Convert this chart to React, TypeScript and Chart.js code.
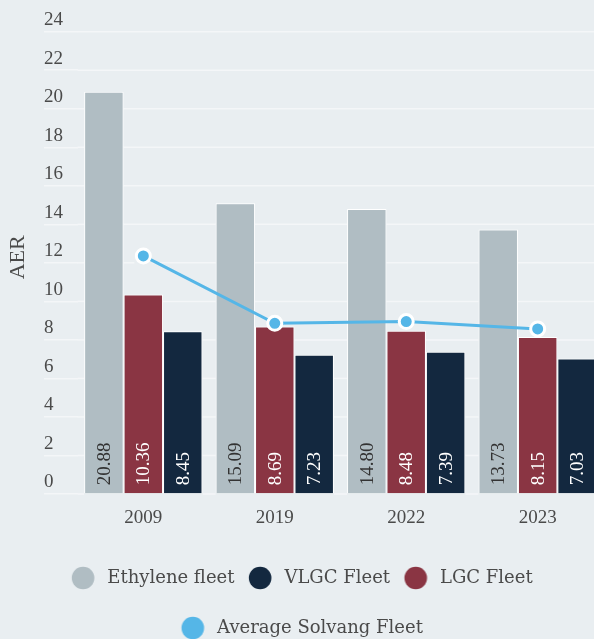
import React, { useEffect, useRef } from 'react';
import { Chart, registerables } from 'chart.js';

Chart.register(...registerables);

const categories = ['2009', '2019', '2022', '2023'];
const ethyleneFleet = [20.88, 15.09, 14.8, 13.73];
const lgcFleet = [10.36, 8.69, 8.48, 8.15];
const vlgcFleet = [8.45, 7.23, 7.39, 7.03];
const averageSolvangFleet = [12.36, 8.86, 8.95, 8.57];
const legendOrder = ['Ethylene fleet', 'VLGC Fleet', 'LGC Fleet', 'Average Solvang Fleet'];
const yTicks = { min: 0, max: 24, step: 2 };
const yAxisTitle = 'AER';

const BG = '#e9eef1';
const GRAY = '#b0bdc3';
const RED = '#8a3543';
const NAVY = '#13283f';
const BLUE = '#55b6e7';
const TEXT = '#4a4a4a';
const GRID = '#f4f6f8';
const NUM_FONT = "'Liberation Serif', 'Times New Roman', serif";
const LEG_FONT = "'DejaVu Serif', serif";

function makeDot(color: string): HTMLCanvasElement {
  const c = document.createElement('canvas');
  c.width = 60;
  c.height = 26;
  const ctx = c.getContext('2d')!;
  ctx.fillStyle = color;
  ctx.beginPath();
  ctx.arc(30 - 10.8, 13, 11.3, 0, Math.PI * 2);
  ctx.fill();
  return c;
}

// Horizontal grid lines at the y scale's ticks, kept off the bars and points.
const underGrid = {
  id: 'underGrid',
  beforeDatasetsDraw(chart: any) {
    const { ctx, chartArea } = chart;
    const ys = chart.scales.y;
    const blocks: number[][] = [];
    chart.data.datasets.forEach((ds: any, di: number) => {
      const meta = chart.getDatasetMeta(di);
      meta.data.forEach((el: any) => {
        if (ds.type === 'line') {
          const { x, y } = el.getProps(['x', 'y'], true);
          blocks.push([x - 9, x + 9, y - 9, y + 9]);
        } else {
          const { x, y, base, width } = el.getProps(['x', 'y', 'base', 'width'], true);
          blocks.push([x - width / 2, x + width / 2, Math.min(y, base), Math.max(y, base)]);
        }
      });
    });
    ctx.save();
    ctx.strokeStyle = GRID;
    ctx.lineWidth = 1.5;
    ys.ticks.forEach((t: any) => {
      const py = ys.getPixelForValue(t.value);
      let segs: number[][] = [[chartArea.left, chartArea.right]];
      blocks.forEach(([x0, x1, y0, y1]) => {
        if (py < y0 - 1 || py > y1 + 1) return;
        segs = segs.flatMap(([a, b]) => {
          if (x1 <= a || x0 >= b) return [[a, b]];
          const out: number[][] = [];
          if (x0 > a) out.push([a, x0]);
          if (x1 < b) out.push([x1, b]);
          return out;
        });
      });
      segs.forEach(([a, b]) => {
        ctx.beginPath();
        ctx.moveTo(a, py);
        ctx.lineTo(b, py);
        ctx.stroke();
      });
    });
    ctx.restore();
  },
};

const barValueLabels = {
  id: 'barValueLabels',
  afterDatasetsDraw(chart: any) {
    const ctx = chart.ctx;
    chart.data.datasets.forEach((ds: any, di: number) => {
      if (ds.type === 'line') return;
      const meta = chart.getDatasetMeta(di);
      meta.data.forEach((el: any, i: number) => {
        const { x, base } = el.getProps(['x', 'base'], true);
        ctx.save();
        ctx.translate(x + 1, base - 8);
        ctx.rotate(-Math.PI / 2);
        ctx.font = `19px ${NUM_FONT}`;
        ctx.fillStyle = ds.valueLabelColor;
        ctx.textAlign = 'left';
        ctx.textBaseline = 'middle';
        ctx.fillText(Number(ds.data[i]).toFixed(2), 0, 0);
        ctx.restore();
      });
    });
  },
};

export default function App() {
  const ref = useRef<HTMLCanvasElement>(null);

  useEffect(() => {
    if (!ref.current) return;
    const colorsByDataset = [BLUE, GRAY, RED, NAVY];
    const dots = colorsByDataset.map(makeDot);
    const chart = new Chart(ref.current, {
      type: 'bar',
      data: {
        labels: categories,
        datasets: [
          {
            type: 'line',
            label: 'Average Solvang Fleet',
            data: averageSolvangFleet,
            order: 0,
            borderColor: BLUE,
            backgroundColor: BLUE,
            borderWidth: 3,
            pointRadius: 7,
            pointBorderWidth: 3,
            pointBorderColor: '#ffffff',
            pointBackgroundColor: BLUE,
            tension: 0,
          } as any,
          {
            label: 'Ethylene fleet',
            data: ethyleneFleet,
            order: 1,
            backgroundColor: GRAY,
            borderColor: '#ffffff',
            borderWidth: 1,
            valueLabelColor: '#333333',
          } as any,
          {
            label: 'LGC Fleet',
            data: lgcFleet,
            order: 1,
            backgroundColor: RED,
            borderColor: '#ffffff',
            borderWidth: 1,
            valueLabelColor: '#ffffff',
          } as any,
          {
            label: 'VLGC Fleet',
            data: vlgcFleet,
            order: 1,
            backgroundColor: NAVY,
            borderColor: '#ffffff',
            borderWidth: 1,
            valueLabelColor: '#ffffff',
          } as any,
        ],
      },
      options: {
        responsive: false,
        animation: false,
        devicePixelRatio: 1,
        layout: { padding: { top: 31.7, left: 0, right: 0, bottom: 0 } },
        datasets: {
          bar: { categoryPercentage: 0.9, barPercentage: 1 },
        },
        plugins: {
          tooltip: { enabled: false },
          legend: {
            position: 'bottom',
            labels: {
              usePointStyle: true,
              pointStyleWidth: 9,
              padding: 32,
              color: TEXT,
              font: { family: LEG_FONT, size: 18 },
              sort: (a: any, b: any) => legendOrder.indexOf(a.text) - legendOrder.indexOf(b.text),
              generateLabels: (c: any) => {
                const items = (Chart.defaults.plugins.legend.labels as any).generateLabels(c);
                return items.map((it: any) => ({ ...it, pointStyle: dots[it.datasetIndex] }));
              },
            },
          },
        },
        scales: {
          x: {
            grid: { display: false },
            border: { display: false },
            ticks: { color: TEXT, font: { family: NUM_FONT, size: 19 }, padding: 5 },
            afterFit: (s: any) => { s.height = 43; },
          },
          y: {
            position: 'left',
            weight: 0,
            min: yTicks.min,
            max: yTicks.max,
            ticks: {
              stepSize: yTicks.step,
              color: TEXT,
              font: { family: NUM_FONT, size: 19 },
              crossAlign: 'far',
              labelOffset: -11.5,
              padding: 0,
            },
            grid: {
              color: GRID,
              lineWidth: 1.5,
              tickLength: 33.6,
              drawTicks: true,
              drawOnChartArea: false,
            },
            border: { display: false },
            afterFit: (s: any) => { s.width = 33.6; },
          },
          yTitle: {
            type: 'linear',
            position: 'left',
            weight: 1,
            display: true,
            grid: { display: false },
            border: { display: false },
            ticks: { display: false },
            title: {
              display: true,
              text: '  ' + yAxisTitle,
              color: TEXT,
              font: { family: NUM_FONT, size: 22 },
              padding: { top: 5, bottom: 0 },
            },
            afterFit: (s: any) => { s.width = 44; },
          },
          yRight: {
            type: 'linear',
            position: 'right',
            display: true,
            grid: { display: false },
            border: { display: false },
            ticks: { display: false },
            afterFit: (s: any) => { s.width = 18.6; },
          },
        } as any,
      },
      plugins: [underGrid, barValueLabels],
    });
    return () => chart.destroy();
  }, []);

  return (
    <div
      style={{
        position: 'absolute',
        left: 0,
        top: 0,
        width: 594,
        height: 639,
        overflow: 'hidden',
        background: BG,
      }}
    >
      <canvas ref={ref} width={622} height={647} style={{ display: 'block' }} />
    </div>
  );
}
